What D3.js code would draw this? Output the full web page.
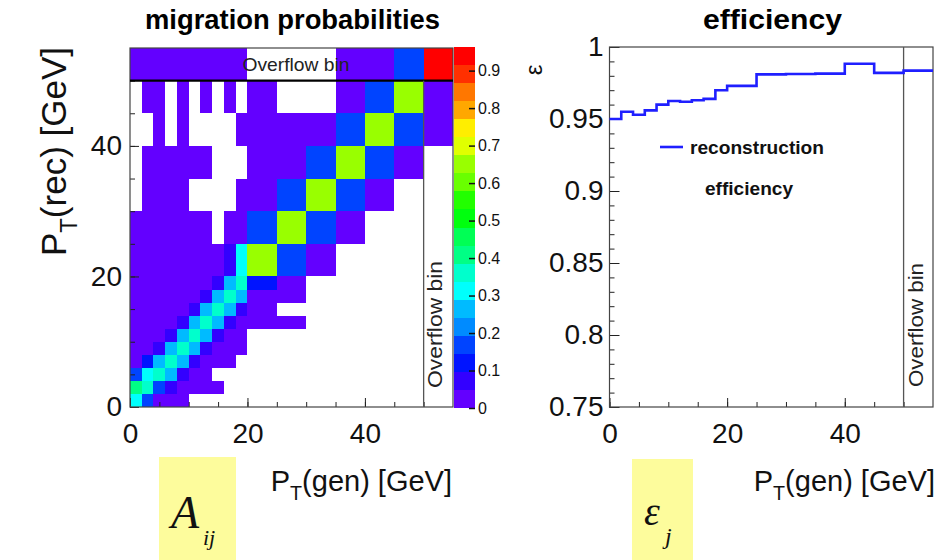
<!DOCTYPE html>
<html lang="en">
<head>
<meta charset="UTF-8">
<title>migration probabilities / efficiency</title>
<script src="https://d3js.org/d3.v7.min.js"></script>
<style>
  body { margin: 0; background: #fff; }
  text { font-family: "Liberation Sans", Arial, Helvetica, sans-serif; }
  text.math { font-family: "Liberation Serif", "DejaVu Serif", "Times New Roman", serif; font-style: italic; }
</style>
</head>
<body>
<script>

// bin edges in GeV, the last bin (50-55) is the overflow bin
const binEdges = [0, 2, 4, 6, 8, 10, 12, 14, 16, 18, 20, 25, 30, 35, 40, 45, 50, 55];

// A_ij : row = P_T(rec) bin (bottom row first), column = P_T(gen) bin; 0 = empty cell
const migration = [
    [0.32, 0.17, 0.03, 0.02, 0.01, 0, 0, 0, 0, 0, 0, 0, 0, 0, 0, 0, 0],
    [0.41, 0.36, 0.17, 0.07, 0.03, 0.02, 0.01, 0.01, 0, 0, 0, 0, 0, 0, 0, 0, 0],
    [0.17, 0.32, 0.36, 0.25, 0.07, 0.03, 0.01, 0, 0, 0, 0, 0, 0, 0, 0, 0, 0],
    [0.03, 0.12, 0.25, 0.36, 0.25, 0.07, 0.03, 0.02, 0.01, 0, 0, 0, 0, 0, 0, 0, 0],
    [0.02, 0.02, 0.07, 0.25, 0.36, 0.25, 0.07, 0.03, 0.02, 0.01, 0, 0, 0, 0, 0, 0, 0],
    [0.01, 0.02, 0.03, 0.07, 0.25, 0.36, 0.25, 0.07, 0.03, 0.02, 0, 0, 0, 0, 0, 0, 0],
    [0.01, 0.01, 0.02, 0.03, 0.07, 0.25, 0.36, 0.25, 0.07, 0.03, 0.02, 0.01, 0, 0, 0, 0, 0],
    [0.01, 0.01, 0.01, 0.02, 0.03, 0.07, 0.25, 0.36, 0.25, 0.07, 0.02, 0, 0, 0, 0, 0, 0],
    [0.01, 0.01, 0.01, 0.01, 0.02, 0.03, 0.07, 0.25, 0.36, 0.25, 0.03, 0.01, 0, 0, 0, 0, 0],
    [0.01, 0.01, 0.01, 0.01, 0.01, 0.02, 0.03, 0.07, 0.25, 0.36, 0.12, 0.02, 0, 0, 0, 0, 0],
    [0.01, 0.01, 0.01, 0.01, 0.01, 0.01, 0.02, 0.02, 0.07, 0.32, 0.64, 0.19, 0.03, 0, 0, 0, 0],
    [0.01, 0.01, 0.01, 0.01, 0.01, 0.01, 0.01, 0, 0.02, 0.02, 0.19, 0.64, 0.19, 0.03, 0, 0, 0],
    [0, 0.01, 0.01, 0.01, 0.01, 0, 0, 0, 0, 0.01, 0.02, 0.18, 0.64, 0.19, 0.02, 0, 0],
    [0, 0.01, 0.01, 0.01, 0.01, 0.01, 0.01, 0, 0, 0, 0.01, 0.02, 0.18, 0.64, 0.19, 0.02, 0],
    [0, 0, 0.01, 0, 0.01, 0, 0, 0, 0, 0.01, 0.01, 0.01, 0.02, 0.18, 0.64, 0.19, 0.02],
    [0, 0.01, 0.01, 0, 0.01, 0, 0.01, 0, 0.01, 0, 0.01, 0, 0, 0.02, 0.18, 0.64, 0.02],
    [0.01, 0.01, 0.01, 0.01, 0.01, 0.01, 0.01, 0.01, 0.01, 0.01, 0, 0, 0, 0.02, 0.02, 0.18, 0.95]
];

// reconstruction efficiency per P_T(gen) bin
const efficiency = [0.950, 0.955, 0.953, 0.956, 0.960, 0.9625, 0.962, 0.963, 0.964, 0.970,
                    0.973, 0.981, 0.9812, 0.9815, 0.9884, 0.982, 0.9836];

const ptTicks = [0, 20, 40];
const ptMinor = [0, 5, 10, 15, 20, 25, 30, 35, 40, 45, 50];
const effTicks = [0.75, 0.8, 0.85, 0.9, 0.95, 1];
const effMinor = d3.range(75, 101).map(d => d / 100);
const zTicks = [0, 0.1, 0.2, 0.3, 0.4, 0.5, 0.6, 0.7, 0.8, 0.9];
const zMax = 0.963;
const nLevels = 20;

const width = 943, height = 560;
const svg = d3.select("body").append("svg").attr("width", width).attr("height", height);
svg.append("rect").attr("width", width).attr("height", height).attr("fill", "#fff");

// ROOT-like "pretty palette" violet -> red, 20 contours
const palette = d3.range(nLevels).map(i => {
    const c = Math.floor((i + 0.99) * 50 / nLevels);
    return d3.hsl(280 - (c + 1) * 5.6, 1, 0.5).formatHex();
});
const color = d3.scaleQuantize().domain([0, zMax]).range(palette);

// ---------- left : migration matrix ----------
const xL = d3.scaleLinear().domain([0, 55]).range([130, 453]);
const yL = d3.scaleLinear().domain([0, 55]).range([407, 48]);

const cells = [];
migration.forEach((row, r) => row.forEach((v, c) => { if (v > 0) cells.push({r, c, v}); }));

svg.append("g").selectAll("rect").data(cells).join("rect")
    .attr("x", d => xL(binEdges[d.c]))
    .attr("y", d => yL(binEdges[d.r + 1]))
    .attr("width", d => xL(binEdges[d.c + 1]) - xL(binEdges[d.c]))
    .attr("height", d => yL(binEdges[d.r]) - yL(binEdges[d.r + 1]))
    .attr("fill", d => color(d.v))
    .attr("shape-rendering", "crispEdges");

function ticks(g, axis) {
    g.call(axis);
    g.select(".domain").remove();
    g.selectAll(".tick line").attr("stroke", "#222");
    g.selectAll("text").attr("font-size", 28).attr("fill", "#111");
}

svg.append("g").attr("transform", "translate(0,407)")
    .call(ticks, d3.axisBottom(xL).tickValues(ptMinor).tickSize(-5).tickFormat(""));
svg.append("g").attr("transform", "translate(0,407)")
    .call(ticks, d3.axisBottom(xL).tickValues(ptTicks).tickSize(-9).tickPadding(16).tickFormat(d3.format("d")));
svg.append("g").attr("transform", "translate(130,0)")
    .call(ticks, d3.axisLeft(yL).tickValues(ptMinor).tickSize(-5).tickFormat(""));
svg.append("g").attr("transform", "translate(130,0)")
    .call(ticks, d3.axisLeft(yL).tickValues(ptTicks).tickSize(-9).tickPadding(8).tickFormat(d3.format("d")));

svg.append("rect").attr("x", xL(0)).attr("y", yL(55)).attr("width", xL(55) - xL(0)).attr("height", yL(0) - yL(55))
    .attr("fill", "none").attr("stroke", "#444").attr("stroke-width", 1.2);
svg.append("line").attr("x1", xL(0)).attr("x2", xL(55)).attr("y1", yL(50)).attr("y2", yL(50))
    .attr("stroke", "#000").attr("stroke-width", 2.2);
svg.append("line").attr("x1", xL(50)).attr("x2", xL(50)).attr("y1", yL(50)).attr("y2", yL(0))
    .attr("stroke", "#555").attr("stroke-width", 1.3);

svg.append("text").attr("x", 296).attr("y", 71).attr("text-anchor", "middle")
    .attr("font-size", 19).attr("fill", "#222").attr("textLength", 107).attr("lengthAdjust", "spacingAndGlyphs")
    .text("Overflow bin");
svg.append("text").attr("transform", `translate(442,388) rotate(-90)`)
    .attr("font-size", 20).attr("fill", "#222").attr("textLength", 127).attr("lengthAdjust", "spacingAndGlyphs")
    .text("Overflow bin");

// colour bar
const zS = d3.scaleLinear().domain([0, zMax]).range([408, 47]);
const levels = d3.range(nLevels).map(i => i * zMax / nLevels);
svg.append("g").selectAll("rect").data(levels).join("rect")
    .attr("x", 454).attr("width", 21)
    .attr("y", d => zS(d + zMax / nLevels))
    .attr("height", d => zS(d) - zS(d + zMax / nLevels))
    .attr("fill", d => color(d + zMax / nLevels / 2))
    .attr("shape-rendering", "crispEdges");
svg.append("g").attr("transform", "translate(475,0)")
    .call(g => {
        g.call(d3.axisRight(zS).tickValues(zTicks).tickSize(-6).tickPadding(3).tickFormat(d3.format("~g")));
        g.select(".domain").remove();
        g.selectAll(".tick line").attr("stroke", "#111").attr("stroke-width", 1.5);
        g.selectAll("text").attr("font-size", 16).attr("fill", "#111");
    });

// ---------- right : efficiency ----------
const xR = d3.scaleLinear().domain([0, 55]).range([609.5, 933]);
const yR = d3.scaleLinear().domain([0.75, 1]).range([407, 47]);

svg.append("g").attr("transform", "translate(0,407)")
    .call(ticks, d3.axisBottom(xR).tickValues(ptMinor).tickSize(-5).tickFormat(""));
svg.append("g").attr("transform", "translate(0,407)")
    .call(ticks, d3.axisBottom(xR).tickValues(ptTicks).tickSize(-9).tickPadding(16).tickFormat(d3.format("d")));
svg.append("g").attr("transform", "translate(609.5,0)")
    .call(ticks, d3.axisLeft(yR).tickValues(effMinor).tickSize(-5).tickFormat(""));
svg.append("g").attr("transform", "translate(609.5,0)")
    .call(ticks, d3.axisLeft(yR).tickValues(effTicks).tickSize(-10).tickPadding(6).tickFormat(d3.format("~g")));

svg.append("rect").attr("x", xR(0)).attr("y", yR(1)).attr("width", xR(55) - xR(0)).attr("height", yR(0.75) - yR(1))
    .attr("fill", "none").attr("stroke", "#444").attr("stroke-width", 1.2);
svg.append("line").attr("x1", xR(50)).attr("x2", xR(50)).attr("y1", yR(1)).attr("y2", yR(0.75))
    .attr("stroke", "#555").attr("stroke-width", 1.3);

const effPts = efficiency.map((e, i) => [binEdges[i], e]);
effPts.push([55, efficiency[efficiency.length - 1]]);
svg.append("path").datum(effPts)
    .attr("d", d3.line().x(d => xR(d[0])).y(d => yR(d[1])).curve(d3.curveStepAfter))
    .attr("fill", "none").attr("stroke", "#1f1fff").attr("stroke-width", 2.6);

svg.append("line").attr("x1", 660).attr("x2", 683).attr("y1", 147).attr("y2", 147)
    .attr("stroke", "#1f1fff").attr("stroke-width", 2.6);
svg.append("text").attr("x", 690).attr("y", 154).attr("font-size", 18).attr("font-weight", "bold")
    .attr("fill", "#111").attr("textLength", 134).attr("lengthAdjust", "spacingAndGlyphs").text("reconstruction");
svg.append("text").attr("x", 705).attr("y", 195).attr("font-size", 18).attr("font-weight", "bold")
    .attr("fill", "#111").attr("textLength", 88).attr("lengthAdjust", "spacingAndGlyphs").text("efficiency");

svg.append("text").attr("transform", `translate(923,387) rotate(-90)`)
    .attr("font-size", 20).attr("fill", "#222").attr("textLength", 124).attr("lengthAdjust", "spacingAndGlyphs")
    .text("Overflow bin");

svg.append("text").attr("transform", `translate(542,70) rotate(-90)`).attr("text-anchor", "middle")
    .attr("font-size", 24).attr("fill", "#111").text("ε");

// ---------- titles and axis labels ----------
svg.append("text").attr("x", 145).attr("y", 29).attr("font-size", 28).attr("font-weight", "bold")
    .attr("textLength", 295).attr("lengthAdjust", "spacingAndGlyphs").text("migration probabilities");
svg.append("text").attr("x", 703).attr("y", 29).attr("font-size", 28).attr("font-weight", "bold")
    .attr("textLength", 139).attr("lengthAdjust", "spacingAndGlyphs").text("efficiency");

function ptLabel(transform, size, inner) {
    const t = svg.append("text").attr("transform", transform).attr("text-anchor", "end")
        .attr("font-size", size).attr("fill", "#111");
    t.append("tspan").text("P");
    t.append("tspan").attr("font-size", size * 0.68).attr("dy", size * 0.3).text("T");
    t.append("tspan").attr("dy", -size * 0.3).text(inner + " [GeV]");
}
ptLabel("translate(452,491)", 29, "(gen)");
ptLabel("translate(935,491)", 29, "(gen)");
ptLabel("translate(66,47) rotate(-90)", 35, "(rec)");

// yellow symbol boxes
svg.append("rect").attr("x", 159).attr("y", 457).attr("width", 77).attr("height", 103).attr("fill", "#fdfc9c");
svg.append("rect").attr("x", 632).attr("y", 459).attr("width", 61).attr("height", 101).attr("fill", "#fdfc9c");

svg.append("text").attr("class", "math").attr("x", 171).attr("y", 528)
    .attr("font-size", 46).attr("fill", "#111").text("A");
svg.append("text").attr("class", "math").attr("x", 203).attr("y", 545)
    .attr("font-size", 22).attr("fill", "#111").text("ij");
svg.append("text").attr("class", "math").attr("x", 644).attr("y", 525)
    .attr("font-size", 40).attr("fill", "#111").text("ε");
svg.append("text").attr("class", "math").attr("x", 665).attr("y", 544)
    .attr("font-size", 24).attr("fill", "#111").text("j");

</script>
</body>
</html>
